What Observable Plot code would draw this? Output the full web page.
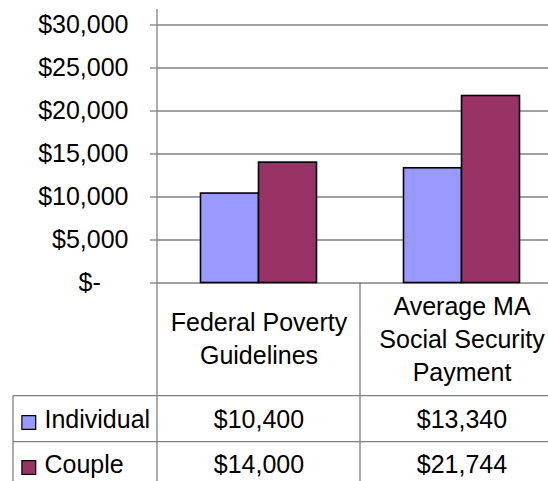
<!DOCTYPE html>
<html><head><meta charset="utf-8">
<script src="https://cdn.jsdelivr.net/npm/d3@7"></script>
<script src="https://cdn.jsdelivr.net/npm/@observablehq/plot@0.6"></script>
<style>html,body{margin:0;padding:0;background:#fff}svg{display:block}</style>
</head><body><div id="chart"></div>
<script>
const categories = ["Federal Poverty Guidelines", "Average MA Social Security Payment"];
const categoryLabels = ["Federal Poverty\nGuidelines", "Average MA\nSocial Security\nPayment"];
const series = ["Individual", "Couple"];
const individualValues = [10400, 13340];
const coupleValues = [14000, 21744];
const yTicks = [0, 5000, 10000, 15000, 20000, 25000, 30000];
const colors = ["#9999FF", "#993366"];

const seriesValues = [individualValues, coupleValues];
const data = categories.flatMap((c, i) => series.map((s, j) => ({category: c, series: s, value: seriesValues[j][i]})));
const money = d3.format("$,");
const yFmt = d => d === 0 ? "$-\u00a0\u00a0\u00a0\u00a0" : money(d);

const W = 548, H = 481, mL = 157, mR = -15, mT = 24.5, mB = 198.5;
const baseY = H - mB;
const gray = "#808080";
const FS = 25;
const rowDy = [136.5, 181.5];
const lineDy = [113.2, 159.2];

const tableLines = (index, scales, values, dims) => {
  const g = d3.create("svg:g").attr("stroke", gray).attr("stroke-width", 1.3).attr("fill", "none");
  const x0 = scales.x(categories[0]), x1 = scales.x(categories[1]), x2 = x1 + scales.x.bandwidth();
  const seg = (a, b, c, d) => g.append("line").attr("x1", a).attr("y1", b).attr("x2", c).attr("y2", d);
  seg(x0, 9, x0, H);
  seg(x1, baseY, x1, H);
  seg(x2, baseY, x2, H);
  lineDy.forEach(dy => seg(13, baseY + dy, x2, baseY + dy));
  seg(13, baseY + lineDy[0], 13, H);
  return g.node();
};

const chart = Plot.plot({
  width: W, height: H,
  marginLeft: mL, marginRight: mR, marginTop: mT, marginBottom: mB,
  style: {fontFamily: "'Liberation Sans', Arial, sans-serif", fontSize: FS + "px", color: "#000", background: "#fff"},
  x: {domain: categories, padding: 0, axis: null},
  y: {domain: [0, 30000], axis: null},
  marks: [
    Plot.ruleY(yTicks, {stroke: gray, strokeWidth: 1.3}),
    Plot.axisY(yTicks, {label: null, tickSize: 7, tickPadding: 22, tickFormat: yFmt, stroke: gray, strokeWidth: 1.3, fontSize: FS, fill: "#000", strokeOpacity: 1}),
    Plot.barY(data.filter(d => d.series === series[0]), {x: "category", y: "value", fill: colors[0], stroke: "#000", strokeWidth: 1.6, insetLeft: 43.5, insetRight: 101.5}),
    Plot.barY(data.filter(d => d.series === series[1]), {x: "category", y: "value", fill: colors[1], stroke: "#000", strokeWidth: 1.6, insetLeft: 101.5, insetRight: 43.5}),
    tableLines,
    Plot.text(categories, {x: d => d, text: (d, i) => categoryLabels[i], frameAnchor: "bottom", dy: 54, lineAnchor: "middle", lineHeight: 1.32, fontSize: FS, fill: "#000"}),
    ...series.map((s, j) => Plot.text(categories, {x: d => d, text: (d, i) => money(seriesValues[j][i]), frameAnchor: "bottom", dy: rowDy[j], lineAnchor: "middle", fontSize: FS, fill: "#000"})),
    ...series.map((s, j) => Plot.text([s], {text: d => d, frameAnchor: "bottom-left", dx: -113, dy: rowDy[j], textAnchor: "start", lineAnchor: "middle", fontSize: FS, fill: "#000"})),
    ...series.map((s, j) => Plot.dot([s], {frameAnchor: "bottom-left", dx: -128.7, dy: rowDy[j] + 3, symbol: "square", r: 7.8, fill: colors[j], stroke: "#000", strokeWidth: 1.2}))
  ]
});
document.getElementById("chart").append(chart);
</script>
</body></html>
